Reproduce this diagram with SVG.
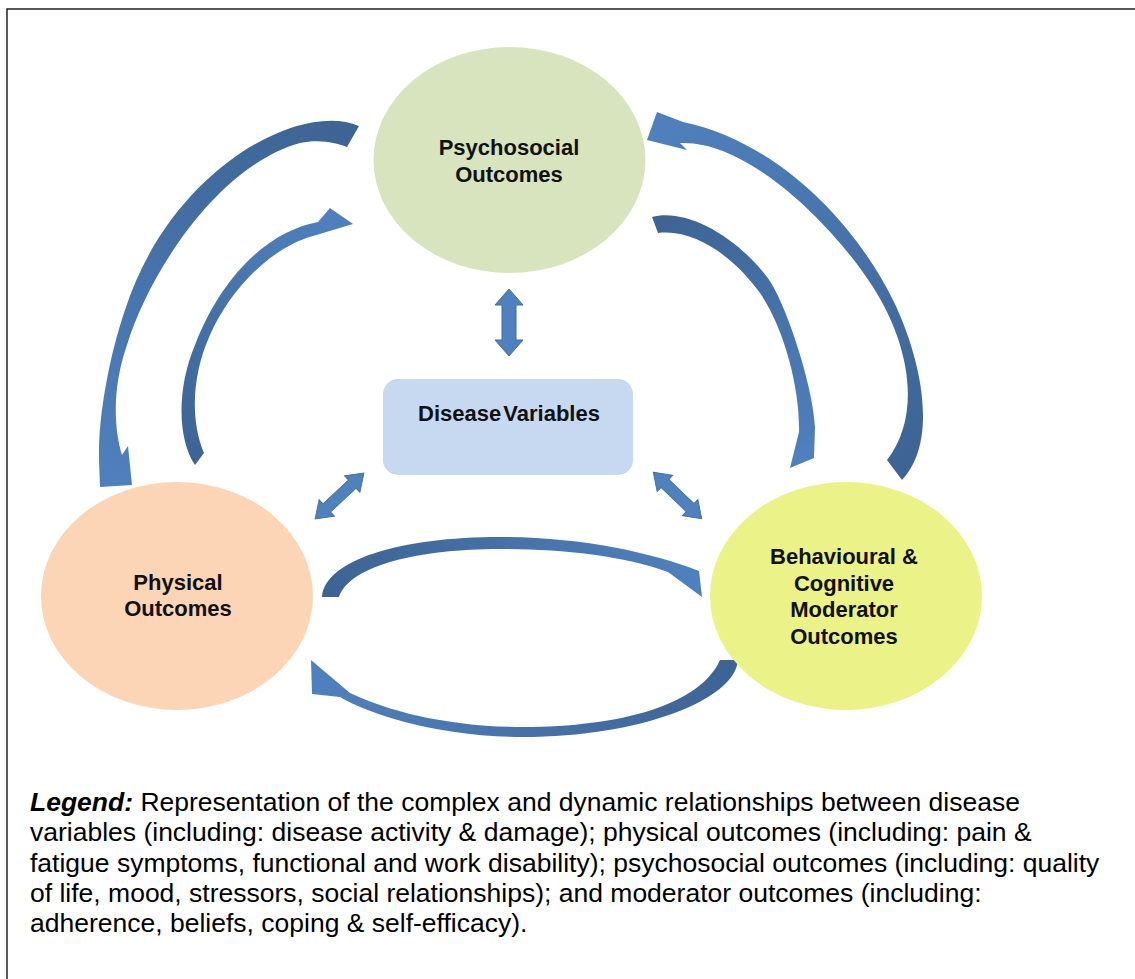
<svg xmlns="http://www.w3.org/2000/svg" width="1135" height="979" viewBox="0 0 1135 979">
<style>
.lbl{font-family:"Liberation Sans",Arial,sans-serif;font-weight:bold;font-size:22px;fill:#111;text-anchor:middle}
.leg{font-family:"Liberation Sans",Arial,sans-serif;font-size:26.5px;fill:#000}
.dbl{fill:#4f81bd;stroke:#3f6da6;stroke-width:1}
</style>
<defs>
<linearGradient id="gA" gradientUnits="userSpaceOnUse" x1="353" y1="137" x2="116" y2="486"><stop offset="0" stop-color="#3d6494"/><stop offset="1" stop-color="#4f80bd"/></linearGradient>
<linearGradient id="gB" gradientUnits="userSpaceOnUse" x1="200" y1="460" x2="340" y2="220"><stop offset="0" stop-color="#3d6494"/><stop offset="1" stop-color="#4f80bd"/></linearGradient>
<linearGradient id="gC" gradientUnits="userSpaceOnUse" x1="895" y1="470" x2="660" y2="130"><stop offset="0" stop-color="#3d6494"/><stop offset="1" stop-color="#4f80bd"/></linearGradient>
<linearGradient id="gD" gradientUnits="userSpaceOnUse" x1="654" y1="224" x2="805" y2="460"><stop offset="0" stop-color="#3d6494"/><stop offset="1" stop-color="#4f80bd"/></linearGradient>
<linearGradient id="gE" gradientUnits="userSpaceOnUse" x1="330" y1="597" x2="690" y2="580"><stop offset="0" stop-color="#3d6494"/><stop offset="1" stop-color="#4f80bd"/></linearGradient>
<linearGradient id="gF" gradientUnits="userSpaceOnUse" x1="729" y1="660" x2="320" y2="680"><stop offset="0" stop-color="#3d6494"/><stop offset="1" stop-color="#4f80bd"/></linearGradient>
<path id="dblArrow" d="M-33.5,0 L-17.5,-14 L-17.5,-7 L17.5,-7 L17.5,-14 L33.5,0 L17.5,14 L17.5,7 L-17.5,7 L-17.5,14 Z"/>
</defs>
<rect x="0" y="0" width="1135" height="979" fill="#fff"/>
<rect x="7" y="9" width="1200" height="1100" fill="none" stroke="#222" stroke-width="1.5"/>

<g id="connectors">
<path fill="url(#gA)" d="M359,126 C300,100 170,170 125,310 C108,360 98,420 99,460 L100,487 L132,485 L128,446 L122,455 C113,425 113,385 127,345 C150,270 220,165 300,143 C320,139 335,143 347,147 Z"/>
<path fill="url(#gB)" d="M195,465 C178,440 176,390 195,345 C220,280 265,232 318,222 L330,208 L353,224 L313,236 C270,248 230,290 210,335 C192,375 190,420 204,453 Z"/>
<path fill="url(#gC)" d="M902,480 C940,440 920,355 893,300 C856,225 779,142 683,122 L657,112 L647,140 L687,150 L680,143 C750,140 836,229 873,287 C910,345 922,415 887,460 Z"/>
<path fill="url(#gD)" d="M652,217 C685,208 735,235 767,277 C785,300 813,385 815,427 L814,458 L790,468 L799,432 C800,390 785,330 760,293 C740,265 700,228 658,233 Z"/>
<path fill="url(#gE)" d="M322,597 C325,560 400,537 500,537 C580,537 650,552 699,571 L702,597 L668,572 C620,555 560,549 500,549 C420,549 350,565 339,597 Z"/>
<path fill="url(#gF)" d="M738,660 C735,700 640,737 523,737 C440,737 370,715 340,697 L312,694 L311,660 L350,693 C390,712 450,727 523,727 C620,727 700,705 720,660 Z"/>
<use href="#dblArrow" class="dbl" transform="translate(509,322.5) rotate(90)"/>
<use href="#dblArrow" class="dbl" transform="translate(339.5,496) rotate(-43.2) scale(1,0.8)"/>
<use href="#dblArrow" class="dbl" transform="translate(677.5,495.5) rotate(43.8) scale(1,0.8)"/>
</g>

<g id="psychosocial">
<ellipse cx="509.5" cy="160" rx="136" ry="113" fill="#d7e4bd"/>
<text class="lbl" x="509" y="155">Psychosocial</text>
<text class="lbl" x="509" y="182">Outcomes</text>
</g>

<g id="disease">
<rect x="383" y="379" width="250" height="96" rx="15" fill="#c6d9f1"/>
<text class="lbl" x="509" y="421" word-spacing="-4">Disease Variables</text>
</g>

<g id="physical">
<ellipse cx="177" cy="596" rx="136" ry="114" fill="#fbd5b5"/>
<text class="lbl" x="178" y="590">Physical</text>
<text class="lbl" x="178" y="616">Outcomes</text>
</g>

<g id="behavioural">
<ellipse cx="846" cy="596" rx="136" ry="114" fill="#ebf288"/>
<text class="lbl" x="844" y="564">Behavioural &amp;</text>
<text class="lbl" x="844" y="590.5">Cognitive</text>
<text class="lbl" x="844" y="617">Moderator</text>
<text class="lbl" x="844" y="643.5">Outcomes</text>
</g>

<g id="legend">
<text class="leg" x="30" y="811"><tspan font-weight="bold" font-style="italic">Legend:</tspan> Representation of the complex and dynamic relationships between disease</text>
<text class="leg" x="30" y="841">variables (including: disease activity &amp; damage); physical outcomes (including: pain &amp;</text>
<text class="leg" x="30" y="872">fatigue symptoms, functional and work disability); psychosocial outcomes (including: quality</text>
<text class="leg" x="30" y="902">of life, mood, stressors, social relationships); and moderator outcomes (including:</text>
<text class="leg" x="30" y="932">adherence, beliefs, coping &amp; self-efficacy).</text>
</g>
</svg>
